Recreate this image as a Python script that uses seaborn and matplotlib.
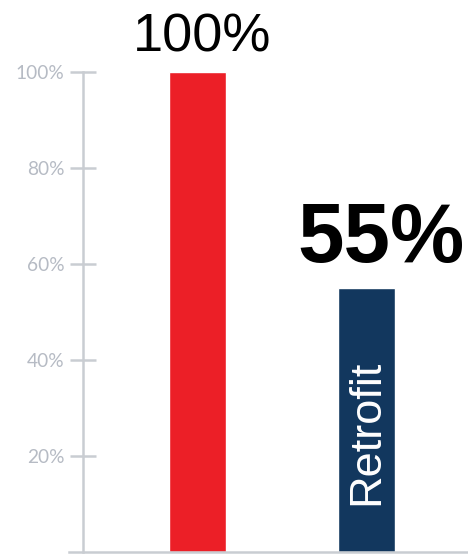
import pandas as pd
import seaborn as sns
import matplotlib.pyplot as plt

categories = ['Baseline', 'Retrofit']
values = [100, 55]
bar_colors = ['#ec1f27', '#12375e']
yticks = [20, 40, 60, 80, 100]
ytick_labels = ['20%', '40%', '60%', '80%', '100%']

df = pd.DataFrame({'category': categories, 'value': values})

sns.set_style('white')
fig = plt.figure(figsize=(4.68, 5.56), dpi=100)
ax = fig.add_axes([69 / 468, 4 / 556, 399 / 468, 480 / 556])

sns.barplot(data=df, x='category', y='value', hue='category', palette=bar_colors,
            width=0.337, legend=False, saturation=1, ax=ax)

ax.set_xlim(-0.760, 1.6006)
ax.set_ylim(0, 100)
ax.set_xlabel('')
ax.set_ylabel('')
ax.set_xticks([])

axis_grey = '#c9cdd2'
for side in ['top', 'right']:
    ax.spines[side].set_visible(False)
ax.spines['left'].set_position(('axes', 14 / 399))
ax.spines['left'].set_color(axis_grey)
ax.spines['left'].set_linewidth(1.8)
ax.spines['bottom'].set_color(axis_grey)
ax.spines['bottom'].set_linewidth(1.8)
ax.tick_params(axis='y', direction='inout', length=19, width=1.8, color=axis_grey,
               labelcolor='#b6bbc4', pad=4, left=True)
ax.set_yticks(yticks)
ax.set_yticklabels(ytick_labels)
for lab in ax.get_yticklabels():
    lab.set_fontfamily('Lato')
    lab.set_fontsize(13.8)

# value labels above bars
ax.text(0.03, values[0] + 4.2, f'{values[0]}%', ha='center', va='baseline',
        fontfamily='Liberation Sans', fontsize=39, color='black', clip_on=False)
ax.text(1.086, values[1] + 5.4, f'{values[1]}%', ha='center', va='baseline',
        fontfamily='Liberation Sans', fontweight='bold', fontsize=60, color='black', clip_on=False)

# category label inside the retrofit bar
ax.text(1.0, 25.0, categories[1], rotation=90, ha='center', va='center',
        fontfamily='Liberation Sans', fontsize=32.5, color='white')

fig.savefig('out.png', dpi=100)
